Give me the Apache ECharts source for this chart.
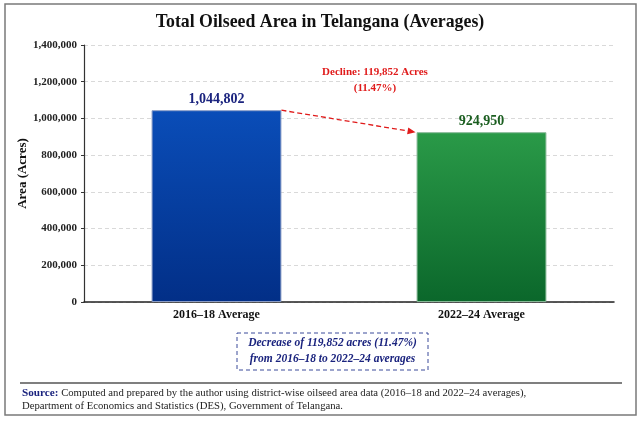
<!DOCTYPE html>
<html>
<head>
<meta charset="utf-8">
<script src="https://cdn.jsdelivr.net/npm/echarts@6/dist/echarts.min.js"></script>
<style>
html,body{margin:0;padding:0;background:#fff;}
#chart{width:640px;height:425px;}
</style>
</head>
<body>
<div id="chart"></div>
<script>
const categories = ['2016\u201318 Average', '2022\u201324 Average'];
const areaValues = [1044802, 924950];
const yTicks = [0, 200000, 400000, 600000, 800000, 1000000, 1200000, 1400000];
const declineValue = areaValues[0] - areaValues[1];
const declinePct = (declineValue / areaValues[0] * 100).toFixed(2);

const SERIF = '"Liberation Serif","Times New Roman",serif';
const NAVY = '#1a237e';
const GREEN_TXT = '#1b5e20';
const fmt = v => v.toLocaleString('en-US');

const chart = echarts.init(document.getElementById('chart'));

const barColors = [
  new echarts.graphic.LinearGradient(0,0,0,1,[{offset:0,color:'#0a4db8'},{offset:1,color:'#022f87'}]),
  new echarts.graphic.LinearGradient(0,0,0,1,[{offset:0,color:'#2a9a48'},{offset:1,color:'#0b672b'}])
];
const borderColors = ['#8a9cc6', '#86b896'];
const labelColors = [NAVY, GREEN_TXT];

const option = {
  animation: false,
  backgroundColor: '#fff',
  title: {
    text: 'Total Oilseed Area in Telangana (Averages)',
    left: 'center', top: 8,
    textStyle: {fontFamily: SERIF, fontSize: 17.8, fontWeight: 'bold', color: '#111'}
  },
  grid: {left: 84, right: 26, top: 45, bottom: 123},
  xAxis: {
    type: 'category',
    data: categories,
    axisLine: {lineStyle: {color: '#222', width: 1.5}},
    axisTick: {show: false},
    axisLabel: {fontFamily: SERIF, fontSize: 12, fontWeight: 'bold', color: '#111', margin: 7}
  },
  yAxis: {
    type: 'value',
    min: yTicks[0], max: yTicks[yTicks.length - 1], interval: yTicks[1] - yTicks[0],
    name: 'Area (Acres)',
    nameLocation: 'middle', nameGap: 55, nameRotate: 90,
    nameMoveOverlap: false,
    nameTextStyle: {fontFamily: SERIF, fontSize: 13, fontWeight: 'bold', color: '#111'},
    axisLine: {show: true, lineStyle: {color: '#333', width: 1.2}},
    axisTick: {show: true, length: 3, lineStyle: {color: '#333'}},
    axisLabel: {fontFamily: SERIF, fontSize: 11, fontWeight: 'bold', color: '#222', margin: 7,
      formatter: v => fmt(v)},
    splitLine: {lineStyle: {color: '#d9d9d9', type: [4, 3], width: 1}}
  },
  series: [{
    type: 'bar',
    barWidth: '49%',
    data: areaValues.map((v, i) => ({
      value: v,
      itemStyle: {color: barColors[i], borderColor: borderColors[i], borderWidth: 1},
      label: {color: labelColors[i]}
    })),
    label: {
      show: true, position: 'top', distance: 4,
      fontFamily: SERIF, fontSize: 14, fontWeight: 'bold',
      formatter: p => fmt(p.value)
    }
  }],
  graphic: []
};
chart.setOption(option);

// arrow between bar tops using library scales
const c0 = chart.convertToPixel({seriesIndex: 0}, [0, areaValues[0]]);
const c1 = chart.convertToPixel({seriesIndex: 0}, [1, areaValues[1]]);
const catW = c1[0] - c0[0];
const barW = catW * 0.49;
const x0 = c0[0] + barW / 2, y0 = c0[1];
const x1 = c1[0] - barW / 2 - 1, y1 = c1[1];
const ang = Math.atan2(y1 - y0, x1 - x0);
const hl = 8, hw = 3.5;
const bx = x1 - hl * Math.cos(ang), by = y1 - hl * Math.sin(ang);
const pts = [
  [x1, y1],
  [bx + hw * Math.sin(ang), by - hw * Math.cos(ang)],
  [bx - hw * Math.sin(ang), by + hw * Math.cos(ang)]
];
const RED = '#e01b1b';

chart.setOption({
  graphic: [
    {type: 'rect', shape: {x: 5, y: 4, width: 631, height: 411}, style: {fill: 'none', stroke: '#7a7a7a', lineWidth: 1.5}, z: 10},
    {type: 'line', shape: {x1: x0, y1: y0, x2: bx, y2: by}, style: {stroke: RED, lineWidth: 1.3, lineDash: [5, 3]}, z: 10},
    {type: 'polygon', shape: {points: pts}, style: {fill: RED}, z: 10},
    {type: 'text', x: 375, y: 72, style: {text: 'Decline: ' + fmt(declineValue) + ' Acres', fontFamily: SERIF, fontSize: 11, fontWeight: 'bold', fill: RED, align: 'center', verticalAlign: 'middle'}, z: 10},
    {type: 'text', x: 375, y: 88, style: {text: '(' + declinePct + '%)', fontFamily: SERIF, fontSize: 11, fontWeight: 'bold', fill: RED, align: 'center', verticalAlign: 'middle'}, z: 10},
    {type: 'rect', shape: {x: 237, y: 333, width: 191, height: 37}, style: {fill: '#fff', stroke: '#3a4a9a', lineWidth: 1, lineDash: [4, 3]}, z: 10},
    {type: 'text', x: 332.5, y: 343.5, style: {text: 'Decrease of ' + fmt(declineValue) + ' acres (' + declinePct + '%)', fontFamily: SERIF, fontSize: 11.5, fontWeight: 'bold', fontStyle: 'italic', fill: NAVY, align: 'center', verticalAlign: 'middle'}, z: 11},
    {type: 'text', x: 332.5, y: 359, style: {text: 'from 2016\u201318 to 2022\u201324 averages', fontFamily: SERIF, fontSize: 11.5, fontWeight: 'bold', fontStyle: 'italic', fill: NAVY, align: 'center', verticalAlign: 'middle'}, z: 11},
    {type: 'line', shape: {x1: 20, y1: 383, x2: 622, y2: 383}, style: {stroke: '#555', lineWidth: 1.5}, z: 10},
    {type: 'text', x: 22, y: 393, style: {
      text: '{b|Source:} Computed and prepared by the author using district-wise oilseed area data (2016\u201318 and 2022\u201324 averages),',
      rich: {b: {fontFamily: SERIF, fontSize: 11.2, fontWeight: 'bold', fill: NAVY, color: NAVY}},
      fontFamily: SERIF, fontSize: 10.7, fill: '#222', verticalAlign: 'middle'}, z: 10},
    {type: 'text', x: 22, y: 406, style: {
      text: 'Department of Economics and Statistics (DES), Government of Telangana.',
      fontFamily: SERIF, fontSize: 10.7, fill: '#222', verticalAlign: 'middle'}, z: 10}
  ]
});
</script>
</body>
</html>
